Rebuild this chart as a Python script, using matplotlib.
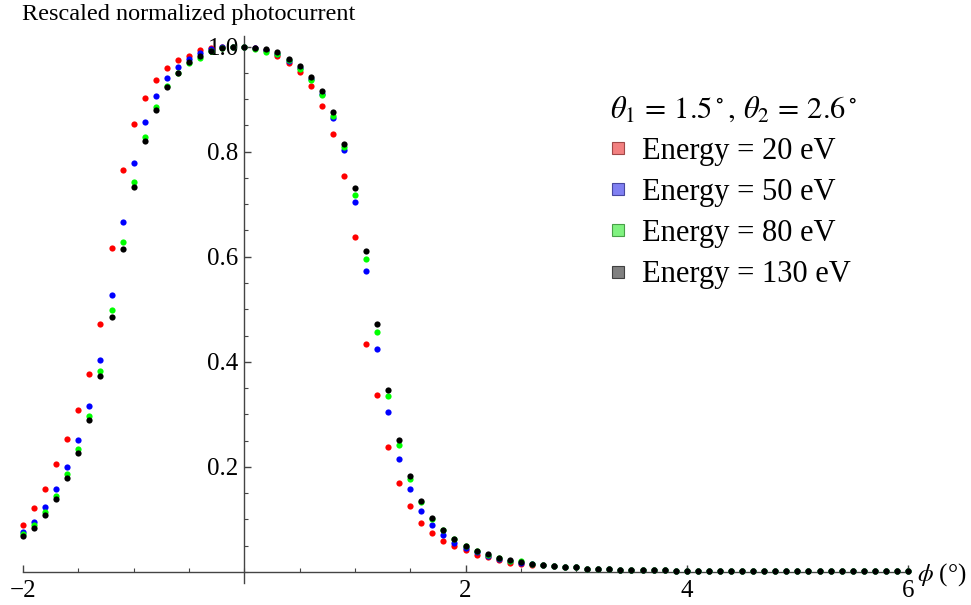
import numpy as np
import matplotlib
matplotlib.use("Agg")
import matplotlib.pyplot as plt
from matplotlib.lines import Line2D
from matplotlib.ticker import MultipleLocator, FixedLocator

plt.rcParams['font.family'] = 'serif'
plt.rcParams['font.serif'] = ['Liberation Serif', 'DejaVu Serif']
plt.rcParams['mathtext.fontset'] = 'stix'

# phi grid in degrees, one sample every 0.1 from -2 to 6
phi = np.linspace(-2, 6, 81)

# shared tail, phi = 2.7 .. 6.0 (all energies overlap there)
tail = [0.0139, 0.0114, 0.009, 0.0085, 0.0065, 0.0055, 0.005, 0.0045, 0.004, 0.0035,
        0.003, 0.003, 0.0025, 0.0025, 0.0022, 0.002, 0.002, 0.0018, 0.0018, 0.0016,
        0.0016, 0.0015, 0.0015, 0.0014, 0.0014, 0.0013, 0.0013, 0.0012, 0.0012, 0.0012,
        0.0011, 0.0011, 0.001, 0.001]

# phi = -2.0 .. 2.6
e20 = [0.089, 0.121, 0.157, 0.206, 0.253, 0.308, 0.377, 0.472, 0.616, 0.765,
       0.852, 0.902, 0.936, 0.959, 0.975, 0.982, 0.993, 0.998, 0.999, 1.0,
       1.0,
       0.998, 0.993, 0.981, 0.969, 0.951, 0.924, 0.886, 0.833, 0.754, 0.637,
       0.434, 0.336, 0.237, 0.169, 0.126, 0.093, 0.075, 0.059, 0.050, 0.041,
       0.033, 0.028, 0.023, 0.018, 0.016, 0.014]
e50 = [0.0755, 0.096, 0.123, 0.157, 0.2005, 0.251, 0.315, 0.403, 0.527, 0.666,
       0.778, 0.856, 0.906, 0.941, 0.961, 0.976, 0.987, 0.995, 0.999, 1.0,
       1.0,
       0.998, 0.994, 0.985, 0.973, 0.960, 0.938, 0.909, 0.864, 0.803, 0.705,
       0.573, 0.424, 0.304, 0.2145, 0.157, 0.116, 0.089, 0.070, 0.056, 0.045,
       0.038, 0.031, 0.024, 0.020, 0.018, 0.015]
e80 = [0.072, 0.089, 0.114, 0.145, 0.186, 0.234, 0.297, 0.383, 0.498, 0.628,
       0.742, 0.827, 0.884, 0.925, 0.950, 0.968, 0.979, 0.992, 0.998, 1.0,
       1.0,
       0.996, 0.990, 0.985, 0.975, 0.958, 0.936, 0.908, 0.867, 0.808, 0.717,
       0.596, 0.456, 0.334, 0.242, 0.177, 0.133, 0.101, 0.079, 0.063, 0.050,
       0.040, 0.033, 0.027, 0.021, 0.020, 0.016]
e130 = [0.0685, 0.084, 0.109, 0.1395, 0.178, 0.226, 0.290, 0.372, 0.486, 0.614,
        0.733, 0.820, 0.880, 0.923, 0.950, 0.9705, 0.982, 0.991, 0.998, 1.0,
        1.0,
        0.998, 0.996, 0.989, 0.977, 0.9635, 0.9425, 0.915, 0.875, 0.815, 0.731,
        0.611, 0.4725, 0.347, 0.251, 0.183, 0.1345, 0.103, 0.080, 0.0635, 0.050,
        0.0405, 0.0337, 0.027, 0.022, 0.0196, 0.0158]

series = [e20 + tail, e50 + tail, e80 + tail, e130 + tail]
labels = ['Energy = 20 eV', 'Energy = 50 eV', 'Energy = 80 eV', 'Energy = 130 eV']
colors = ['#ff0000', '#0000ff', '#00ff00', '#000000']
light = ['#f28080', '#8080f2', '#80f280', '#808080']
edges = ['#a04848', '#4848a0', '#48a048', '#404040']

fig = plt.figure(figsize=(9.71, 6.05), dpi=100)
ax = fig.add_axes([23/971, 1 - 583/605, 885/971, 547/605])

for y, c in zip(series, colors):
    ax.scatter(phi, y, s=20, color=c, linewidths=0, zorder=3, clip_on=False)

ax.set_xlim(-2, 6)
ax.set_ylim(-0.021, 1.02)

for s in ['top', 'right']:
    ax.spines[s].set_visible(False)
ax.spines['left'].set_position(('data', 0))
ax.spines['bottom'].set_position(('data', 0))
for s in ['left', 'bottom']:
    ax.spines[s].set_color('#444444')
    ax.spines[s].set_linewidth(1)

ax.xaxis.set_major_locator(FixedLocator([-2, 2, 4, 6]))
ax.xaxis.set_minor_locator(MultipleLocator(0.5))
ax.yaxis.set_major_locator(FixedLocator([0.2, 0.4, 0.6, 0.8, 1.0]))
ax.yaxis.set_minor_locator(MultipleLocator(0.05))
ax.set_xticklabels(['\u22122', '2', '4', '6'])
ax.set_yticklabels(['0.2', '0.4', '0.6', '0.8', '1.0'])
ax.tick_params(which='both', direction='in', color='#444444', labelsize=18)
ax.tick_params(which='major', length=5, width=1)
ax.tick_params(which='minor', length=3, width=0.8)
ax.tick_params(axis='x', pad=6)
ax.tick_params(axis='y', pad=4)

fig.text(22/971, 1 - 4/605, 'Rescaled normalized photocurrent', fontsize=17.5,
         ha='left', va='top')
fig.text(917/971, 1 - 575/605, r'$\phi$ (°)', fontsize=18, ha='left', va='center')

handles = [Line2D([], [], ls='', marker='s', markersize=8, markerfacecolor=f,
                  markeredgecolor=e, markeredgewidth=0.8)
           for f, e in zip(light, edges)]
leg = ax.legend(handles, labels,
                title=r'$\theta_1\,=\,1.5^\circ,\,\theta_2\,=\,2.6^\circ$',
                loc='upper left', bbox_to_anchor=(610/971, 1 - 95/605),
                bbox_transform=fig.transFigure, frameon=False, fontsize=22,
                title_fontsize=22, alignment='left', handlelength=0.5,
                handletextpad=0.55, labelspacing=0.4, borderpad=0, borderaxespad=0)

fig.savefig('out.png', dpi=100)
